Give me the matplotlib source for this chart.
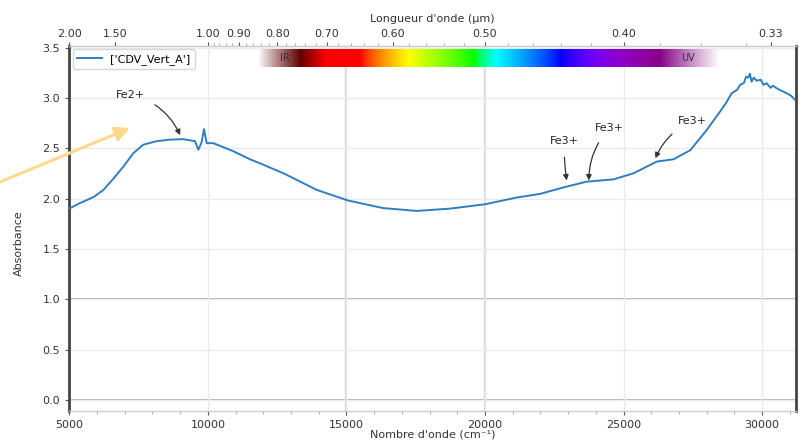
import numpy as np
import matplotlib
matplotlib.use("Agg")
import matplotlib.pyplot as plt
from matplotlib.ticker import FixedLocator, MultipleLocator

# ---------------- data ----------------
wavenumber = [5000, 5386, 5877, 6238, 6599, 6960, 7309, 7670, 8154, 8634,
              9114, 9536, 9655, 9778, 9861, 9958, 10196, 10918, 11520, 11881,
              12733, 13937, 15067, 16330, 17536, 18737, 20000, 21144, 21985,
              22826, 23670, 24630, 25352, 26196, 26806, 27408, 28000, 28480,
              28700, 28903, 29100, 29202, 29350, 29420, 29502, 29560, 29620,
              29700, 29805, 29950, 30050, 30166, 30300, 30400, 30527, 30700,
              30888, 31050, 31187]
absorbance = [1.90, 1.955, 2.015, 2.087, 2.20, 2.32, 2.45, 2.535, 2.57, 2.585,
              2.59, 2.57, 2.485, 2.56, 2.69, 2.55, 2.55, 2.47, 2.39, 2.35,
              2.25, 2.085, 1.98, 1.905, 1.877, 1.90, 1.943, 2.01, 2.046,
              2.11, 2.168, 2.19, 2.25, 2.367, 2.39, 2.48, 2.68, 2.863,
              2.95, 3.046, 3.08, 3.128, 3.15, 3.21, 3.20, 3.24, 3.16,
              3.20, 3.17, 3.18, 3.13, 3.145, 3.10, 3.12, 3.095, 3.07,
              3.046, 3.02, 2.98]
series_label = "['CDV_Vert_A']"

top_ticks = [2.00, 1.50, 1.00, 0.90, 0.80, 0.70, 0.60, 0.50, 0.40, 0.33]
top_tick_labels = ["2.00", "1.50", "1.00", "0.90", "0.80", "0.70", "0.60",
                   "0.50", "0.40", "0.33"]

annotations = [
    ("Fe2+", (9000, 2.63), (7200, 3.03), -0.25),
    ("Fe3+", (22950, 2.18), (22870, 2.57), 0.05),
    ("Fe3+", (23750, 2.18), (24500, 2.70), 0.2),
    ("Fe3+", (26150, 2.40), (27480, 2.77), 0.2),
]

# ---------------- figure ----------------
W, H = 802, 444
fig = plt.figure(figsize=(W / 100, H / 100), dpi=100)
ax = fig.add_axes([69.3 / W, 33 / H, (796 - 69.3) / W, (411 - 46) / H])

ax.set_xlim(5000, 31223)
ax.set_ylim(-0.11, 3.515)

ax.grid(True, color="#ebebeb", lw=1.0, zorder=0)
ax.axhline(0, color="#a8a8a8", lw=1.3, zorder=1)
ax.axhline(1, color="#a8a8a8", lw=1.3, zorder=1)
ax.axvline(15000, color="#d0d0d0", lw=1.6, zorder=1)
ax.axvline(20000, color="#d0d0d0", lw=1.6, zorder=1)

ax.plot(wavenumber, absorbance, color="#2f7fc0", lw=1.4, label=series_label, zorder=3)

# spectrum gradient
def wl_rgb(l):
    if l < 380:
        l = 380
    if l > 750:
        l = 750
    if l < 440:
        r, g, b = -(l - 440) / (440 - 380), 0.0, 1.0
    elif l < 490:
        r, g, b = 0.0, (l - 440) / (490 - 440), 1.0
    elif l < 510:
        r, g, b = 0.0, 1.0, -(l - 510) / (510 - 490)
    elif l < 580:
        r, g, b = (l - 510) / (580 - 510), 1.0, 0.0
    elif l < 645:
        r, g, b = 1.0, -(l - 645) / (645 - 580), 0.0
    else:
        r, g, b = 1.0, 0.0, 0.0
    if l < 420:
        f = 0.45 + 0.55 * (l - 380) / (420 - 380)
    elif l > 700:
        f = 0.3 + 0.7 * (750 - l) / (750 - 700)
    else:
        f = 1.0
    return [(r * f) ** 0.8, (g * f) ** 0.8, (b * f) ** 0.8]

wn_g = np.linspace(11809, 28480, 600)
lam = 1e7 / wn_g
img = np.zeros((1, len(wn_g), 4))
for i, l in enumerate(lam):
    img[0, i, :3] = wl_rgb(l)
    if l > 750:
        a = 1 - (l - 750) / (lam[0] - 750)
    elif l < 380:
        a = 1 - (380 - l) / (380 - lam[-1])
    else:
        a = 1.0
    img[0, i, 3] = max(0.0, min(1.0, a))
ax.imshow(img, extent=[wn_g[0], wn_g[-1], 3.31, 3.48], aspect="auto",
          interpolation="bilinear", zorder=2)
ax.text(12786, 3.395, "IR", fontsize=7, color="#333333", ha="center", va="center", zorder=4)
ax.text(27331, 3.395, "UV", fontsize=7, color="#333333", ha="center", va="center", zorder=4)

for txt, xy, xyt, rad in annotations:
    ax.annotate(txt, xy=xy, xytext=xyt, fontsize=8, color="#222222",
                ha="center", va="center",
                arrowprops=dict(arrowstyle="-|>", color="#333333", lw=0.9,
                                shrinkA=6, shrinkB=0, mutation_scale=8,
                                connectionstyle=f"arc3,rad={rad}"),
                zorder=4)

# spines
for s in ["left", "right"]:
    ax.spines[s].set_color("#444444")
    ax.spines[s].set_linewidth(2.0)
for s in ["top", "bottom"]:
    ax.spines[s].set_color("#cccccc")
    ax.spines[s].set_linewidth(1.0)

ax.set_xticks([5000, 10000, 15000, 20000, 25000, 30000])
ax.xaxis.set_minor_locator(MultipleLocator(1000))
ax.set_yticks([0.0, 0.5, 1.0, 1.5, 2.0, 2.5, 3.0, 3.5])
ax.tick_params(axis="both", which="major", labelsize=8, length=3, color="#555555",
               labelcolor="#333333")
ax.tick_params(axis="x", which="minor", length=2, color="#999999")

ax.set_ylabel("Absorbance", fontsize=8, color="#333333")
ax.yaxis.set_label_coords(-0.062, 0.46)
ax.set_xlabel("Nombre d'onde (cm⁻¹)", fontsize=8, color="#333333")
ax.xaxis.set_label_coords(0.5, -0.052)

def inv(x):
    x = np.asarray(x, dtype=float)
    with np.errstate(divide="ignore"):
        return np.where(x == 0, np.inf, 1e4 / np.where(x == 0, 1, x))

secax = ax.secondary_xaxis("top", functions=(inv, inv))
secax.set_xticks(top_ticks)
secax.set_xticklabels(top_tick_labels)
secax.xaxis.set_minor_locator(FixedLocator(list(np.arange(0.34, 1.0, 0.02))))
secax.tick_params(axis="x", which="major", labelsize=8, length=3, color="#555555",
                  labelcolor="#333333", pad=2)
secax.tick_params(axis="x", which="minor", length=2, color="#999999")
secax.spines["top"].set_color("#cccccc")
secax.set_xlabel("Longueur d'onde (µm)", fontsize=8, color="#333333", labelpad=5)

leg = ax.legend(loc="upper left", fontsize=8, frameon=True, borderaxespad=0.3,
                handlelength=2.2, fancybox=True)
leg.get_frame().set_edgecolor("#cccccc")
leg.set_zorder(5)

# decorative pale arrow
ax.annotate("", xy=(130, H - 128), xytext=(0, H - 182),
            xycoords="figure pixels", textcoords="figure pixels",
            arrowprops=dict(arrowstyle="-|>", color="#fcd98e", lw=2.2,
                            mutation_scale=22, shrinkA=0, shrinkB=0),
            annotation_clip=False)

fig.savefig("out.png", dpi=100)
